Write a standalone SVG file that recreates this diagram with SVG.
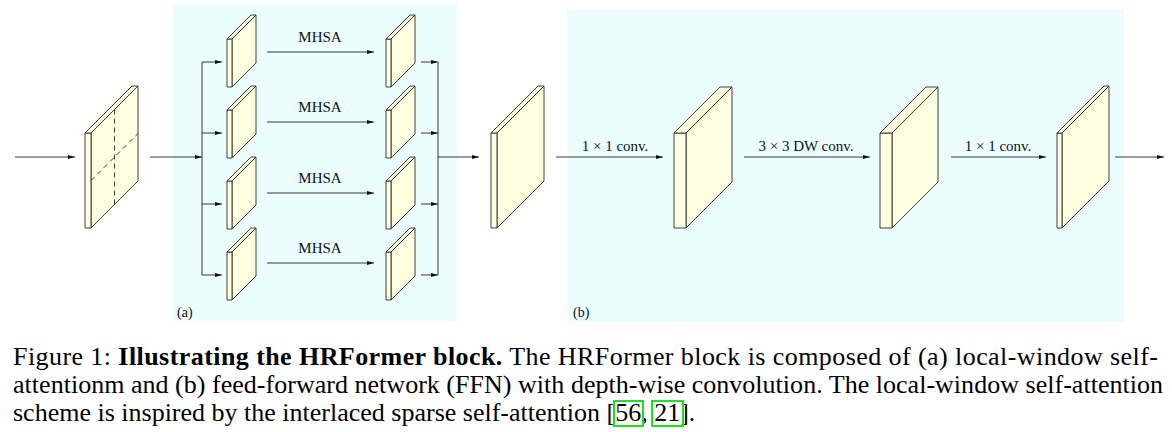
<svg xmlns="http://www.w3.org/2000/svg" width="1172" height="432" viewBox="0 0 1172 432">
<defs>
<marker id="ah" viewBox="0 0 7 4" refX="7" refY="2" markerWidth="7" markerHeight="4" markerUnits="userSpaceOnUse" orient="auto"><path d="M0,0 L7,2 L0,4 z" fill="#111"/></marker>
<style>
.panel{fill:#ebfdff}
.blk polygon,.blk rect{fill:#fefee0;stroke:#2a2a2a;stroke-width:0.9;stroke-linejoin:round}
.ln{fill:none;stroke:#222;stroke-width:0.9}
.ar{fill:none;stroke:#222;stroke-width:0.9;marker-end:url(#ah)}
.dash{fill:none;stroke:#222;stroke-width:0.9;stroke-dasharray:5,4}
.lbl{font-family:"Liberation Serif",serif;font-size:15px;fill:#111;text-anchor:middle}
.sub{font-family:"Liberation Serif",serif;font-size:14px;fill:#111}
.cap{font-family:"Liberation Serif",serif;font-size:26px;fill:#000}
.b{font-weight:bold}
.cite{fill:none;stroke:#22dd22;stroke-width:2}
</style>
</defs>
<rect class="panel" x="173" y="4" width="284" height="317"/>
<rect class="panel" x="567" y="10" width="557" height="312"/>
<text class="sub" x="177" y="317">(a)</text>
<text class="sub" x="573" y="317">(b)</text>

<g id="input-block" class="blk">
<polygon points="91,133 138,86 138,181 91,228"/>
<rect x="85" y="133" width="6" height="95"/>
<polygon points="85,133 132,86 138,86 91,133"/>
<line class="dash" x1="114.5" y1="109.5" x2="114.5" y2="204.5"/>
<line class="dash" x1="91" y1="180.5" x2="138" y2="133.5"/>
</g>

<g id="win1" class="blk"><polygon points="232,39 256,15 256,63 232,87"/><rect x="227" y="39" width="5" height="48"/><polygon points="227,39 251,15 256,15 232,39"/></g>
<g id="win2" class="blk"><polygon points="232,110 256,86 256,134 232,158"/><rect x="227" y="110" width="5" height="48"/><polygon points="227,110 251,86 256,86 232,110"/></g>
<g id="win3" class="blk"><polygon points="232,181 256,157 256,205 232,229"/><rect x="227" y="181" width="5" height="48"/><polygon points="227,181 251,157 256,157 232,181"/></g>
<g id="win4" class="blk"><polygon points="232,252 256,228 256,276 232,300"/><rect x="227" y="252" width="5" height="48"/><polygon points="227,252 251,228 256,228 232,252"/></g>

<g id="out1" class="blk"><polygon points="391,39 415,15 415,63 391,87"/><rect x="386" y="39" width="5" height="48"/><polygon points="386,39 410,15 415,15 391,39"/></g>
<g id="out2" class="blk"><polygon points="391,110 415,86 415,134 391,158"/><rect x="386" y="110" width="5" height="48"/><polygon points="386,110 410,86 415,86 391,110"/></g>
<g id="out3" class="blk"><polygon points="391,181 415,157 415,205 391,229"/><rect x="386" y="181" width="5" height="48"/><polygon points="386,181 410,157 415,157 391,181"/></g>
<g id="out4" class="blk"><polygon points="391,252 415,228 415,276 391,300"/><rect x="386" y="252" width="5" height="48"/><polygon points="386,252 410,228 415,228 391,252"/></g>

<g id="merged" class="blk"><polygon points="497,133 544,86 544,181 497,228"/><rect x="491" y="133" width="6" height="95"/><polygon points="491,133 538,86 544,86 497,133"/></g>
<g id="ffn1" class="blk"><polygon points="686,133 732,87 732,182 686,228"/><rect x="674" y="133" width="12" height="95"/><polygon points="674,133 720,87 732,87 686,133"/></g>
<g id="ffn2" class="blk"><polygon points="892,133 938,87 938,182 892,228"/><rect x="880" y="133" width="12" height="95"/><polygon points="880,133 926,87 938,87 892,133"/></g>
<g id="ffn3" class="blk"><polygon points="1062,133 1109,86 1109,181 1062,228"/><rect x="1057" y="133" width="5" height="95"/><polygon points="1057,133 1104,86 1109,86 1062,133"/></g>

<g id="connectors">
<line class="ar" x1="15" y1="157" x2="75" y2="157"/>
<line class="ar" x1="150" y1="157" x2="202" y2="157"/>
<line class="ln" x1="202" y1="62" x2="202" y2="275"/>
<line class="ar" x1="202" y1="62" x2="222" y2="62"/>
<line class="ar" x1="202" y1="133" x2="222" y2="133"/>
<line class="ar" x1="202" y1="204" x2="222" y2="204"/>
<line class="ar" x1="202" y1="275" x2="222" y2="275"/>
<line class="ar" x1="267" y1="52" x2="374" y2="52"/>
<line class="ar" x1="267" y1="122" x2="374" y2="122"/>
<line class="ar" x1="267" y1="193" x2="374" y2="193"/>
<line class="ar" x1="267" y1="263" x2="374" y2="263"/>
<line class="ar" x1="421" y1="62" x2="438" y2="62"/>
<line class="ar" x1="421" y1="133" x2="438" y2="133"/>
<line class="ar" x1="421" y1="204" x2="438" y2="204"/>
<line class="ar" x1="421" y1="275" x2="438" y2="275"/>
<line class="ln" x1="438" y1="62" x2="438" y2="275"/>
<line class="ar" x1="438" y1="157" x2="479" y2="157"/>
<line class="ar" x1="556" y1="157" x2="663" y2="157"/>
<line class="ar" x1="744" y1="157" x2="870" y2="157"/>
<line class="ar" x1="951" y1="157" x2="1046" y2="157"/>
<line class="ar" x1="1115" y1="157" x2="1164" y2="157"/>
<text class="lbl" x="320" y="42">MHSA</text>
<text class="lbl" x="320" y="112">MHSA</text>
<text class="lbl" x="320" y="183">MHSA</text>
<text class="lbl" x="320" y="253">MHSA</text>
<text class="lbl" x="615" y="151">1 × 1 conv.</text>
<text class="lbl" x="806" y="151">3 × 3 DW conv.</text>
<text class="lbl" x="998" y="151">1 × 1 conv.</text>
</g>

<g id="caption">
<text class="cap" x="13" y="365" textLength="1145" lengthAdjust="spacing">Figure 1: <tspan class="b">Illustrating the HRFormer block.</tspan> The HRFormer block is composed of (a) local-window self-</text>
<text class="cap" x="13" y="393" textLength="1150" lengthAdjust="spacing">attentionm and (b) feed-forward network (FFN) with depth-wise convolution. The local-window self-attention</text>
<text class="cap" x="13" y="421">scheme is inspired by the interlaced sparse self-attention [56, 21].</text>
<rect class="cite" x="614" y="401" width="29" height="25"/>
<rect class="cite" x="652" y="401" width="31" height="25"/>
</g>
</svg>
